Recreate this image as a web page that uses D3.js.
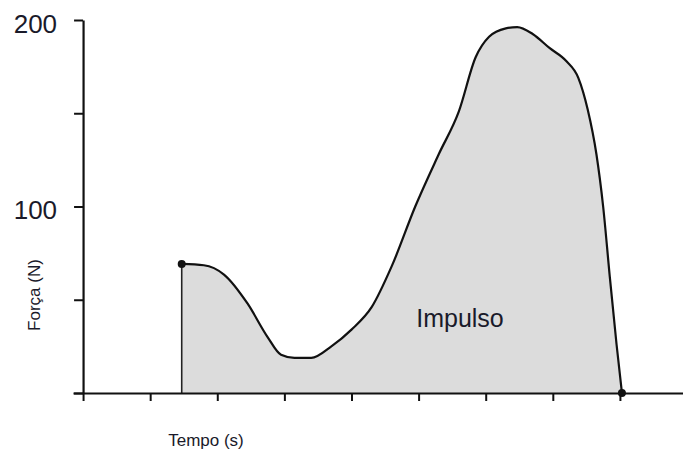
<!DOCTYPE html>
<html>
<head>
<meta charset="utf-8">
<script src="https://cdn.jsdelivr.net/npm/d3@7"></script>
<style>
  body { margin: 0; background: #fff; }
</style>
</head>
<body>
<div id="chartContainer"></div>
<script>
// force curve (time in axis units, force in N)
const tempo = [1.47, 1.80, 2.10, 2.45, 2.75, 2.95, 3.15, 3.40, 3.70, 4.00, 4.30, 4.60, 4.95, 5.30, 5.60, 5.85, 6.05, 6.30, 6.47, 6.70, 6.95, 7.20, 7.38, 7.52, 7.65, 7.75, 7.85, 7.95, 8.03];
const forca = [69.2, 68.5, 63.5, 48, 30, 20.5, 18.8, 18.8, 25, 34, 46, 68, 100, 128, 151, 180, 191, 195.5, 196.2, 192.5, 185, 178, 169, 152, 128, 100, 62, 26, 0];
const yTicks = [0, 50, 100, 150, 200];
const yTickLabels = ['', '', '100', '', '200'];
const xTicks = [0, 1, 2, 3, 4, 5, 6, 7, 8];

function init() {
    const width = 683;
    const height = 450;
    const data = tempo.map((t, i) => ({ t: t, f: forca[i] }));

    const svg = d3.select('#chartContainer')
        .append('svg')
        .attr('width', width)
        .attr('height', height)
        .style('font-family', '"Liberation Sans", Arial, sans-serif');

    const scX = d3.scaleLinear()
        .domain([-0.15, 8.94])
        .range([73, 683]);

    const scY = d3.scaleLinear()
        .domain([0, 200])
        .range([393, 20]);

    // area under the curve
    const areaMaker = d3.area()
        .x(d => scX(d.t))
        .y0(scY(0))
        .y1(d => scY(d.f))
        .curve(d3.curveMonotoneX);

    svg.append('path')
        .attr('d', areaMaker(data))
        .attr('fill', '#dcdcdc')
        .attr('stroke', 'none');

    // vertical edge at the start
    svg.append('line')
        .attr('x1', scX(tempo[0])).attr('x2', scX(tempo[0]))
        .attr('y1', scY(0)).attr('y2', scY(forca[0]))
        .attr('stroke', '#222')
        .attr('stroke-width', 1.6);

    const lineMaker = d3.line()
        .x(d => scX(d.t))
        .y(d => scY(d.f))
        .curve(d3.curveMonotoneX);

    svg.append('path')
        .attr('d', lineMaker(data))
        .attr('fill', 'none')
        .attr('stroke', '#111')
        .attr('stroke-width', 2.2);

    // X axis
    const xAxis = d3.axisBottom(scX)
        .tickValues(xTicks)
        .tickFormat('')
        .tickSizeInner(8)
        .tickSizeOuter(0);

    const gx = svg.append('g')
        .attr('transform', `translate(0, ${scY(0)})`)
        .call(xAxis);
    gx.select('.domain').attr('stroke', '#111').attr('stroke-width', 2);
    gx.selectAll('.tick line').attr('stroke', '#111').attr('stroke-width', 2);

    // Y axis
    const yAxis = d3.axisLeft(scY)
        .tickValues(yTicks)
        .tickFormat((d, i) => yTickLabels[i])
        .tickSizeInner(9)
        .tickSizeOuter(0)
        .tickPadding(17);

    const gy = svg.append('g')
        .attr('transform', `translate(${scX(0)}, 0)`)
        .call(yAxis);
    gy.select('.domain').attr('stroke', '#111').attr('stroke-width', 2.2);
    gy.selectAll('.tick line').attr('stroke', '#111').attr('stroke-width', 2);
    gy.selectAll('.tick text')
        .attr('font-size', 26)
        .attr('font-family', '"Liberation Sans", Arial, sans-serif')
        .attr('fill', '#1a1a2a')
        .attr('dy', null)
        .attr('y', 12);

    // end points
    svg.append('g')
        .selectAll('circle')
        .data([data[0], data[data.length - 1]])
        .enter()
        .append('circle')
        .attr('cx', d => scX(d.t))
        .attr('cy', d => scY(d.f))
        .attr('r', 4)
        .attr('fill', '#111');

    // labels
    svg.append('text')
        .attr('transform', 'translate(40, 295) rotate(-90)')
        .attr('text-anchor', 'middle')
        .attr('font-size', 17)
        .attr('fill', '#1a1a2a')
        .text('Força (N)');

    svg.append('text')
        .attr('x', 206)
        .attr('y', 446)
        .attr('text-anchor', 'middle')
        .attr('font-size', 17)
        .attr('fill', '#1a1a2a')
        .text('Tempo (s)');

    svg.append('text')
        .attr('x', 460)
        .attr('y', 327)
        .attr('text-anchor', 'middle')
        .attr('font-size', 25)
        .attr('fill', '#1a1a2a')
        .text('Impulso');
}

init();
</script>
</body>
</html>
